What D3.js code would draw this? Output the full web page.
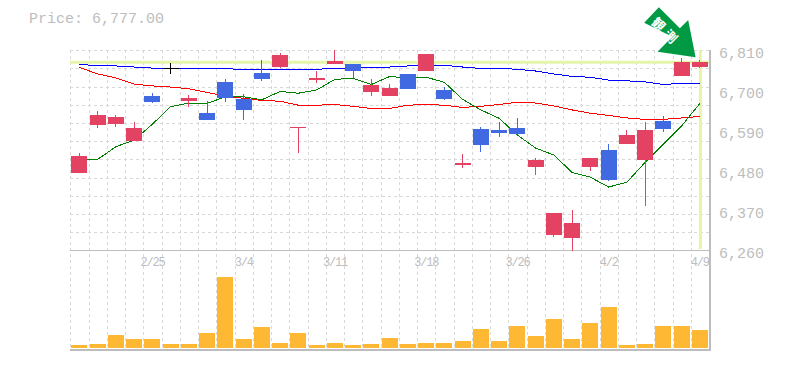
<!DOCTYPE html>
<html>
<head>
<meta charset="utf-8">
<script src="https://d3js.org/d3.v7.min.js"></script>
<style>
  body { margin: 0; background: #fff; }
  text { font-family: "Liberation Mono", monospace; fill: #bdbdbd; }
</style>
</head>
<body>
<div id="chart"></div>
<script>
var dates = ['2/19', '2/20', '2/21', '2/22', '2/25', '2/26', '2/27', '2/28', '3/1', '3/4', '3/5', '3/6', '3/7', '3/8', '3/11', '3/12', '3/13', '3/14', '3/15', '3/18', '3/19', '3/20', '3/22', '3/25', '3/26', '3/27', '3/28', '3/29', '4/1', '4/2', '4/3', '4/4', '4/5', '4/8', '4/9'];
var dateTicks = ['2/25', '3/4', '3/11', '3/18', '3/26', '4/2', '4/9'];
var priceTicks = [6260, 6370, 6480, 6590, 6700, 6810];
var gridTicks = d3.range(6260, 6811, 50);

var open = [6473, 6605, 6607, 6561, 6684, 6760, 6671, 6638, 6723, 6676, 6748, 6764, 6596, 6728, 6772, 6772, 6695, 6684, 6745, 6753, 6701, 6495, 6594, 6591, 6596, 6489, 6302, 6294, 6489, 6536, 6552, 6508, 6616, 6739, 6764];
var high = [6528, 6643, 6632, 6613, 6693, 6775, 6687, 6671, 6731, 6690, 6783, 6803, 6599, 6753, 6812, 6772, 6731, 6717, 6745, 6800, 6709, 6525, 6599, 6613, 6624, 6514, 6363, 6371, 6514, 6552, 6591, 6613, 6629, 6789, 6783];
var low = [6473, 6596, 6599, 6561, 6665, 6745, 6654, 6618, 6668, 6618, 6725, 6761, 6527, 6720, 6772, 6734, 6684, 6684, 6704, 6753, 6673, 6486, 6530, 6572, 6580, 6467, 6297, 6258, 6478, 6451, 6552, 6382, 6585, 6739, 6761];
var close = [6519, 6632, 6627, 6596, 6668, 6760, 6679, 6618, 6679, 6646, 6731, 6797, 6599, 6734, 6781, 6753, 6715, 6706, 6704, 6800, 6676, 6500, 6550, 6583, 6580, 6508, 6363, 6335, 6514, 6453, 6577, 6591, 6594, 6778, 6777];

var maShort = [6510, 6510, 6545, 6563, 6607, 6655, 6665, 6664, 6682, 6682, 6674, 6697, 6692, 6701, 6730, 6733, 6716, 6738, 6734, 6736, 6722, 6675, 6646, 6623, 6577, 6541, 6522, 6474, 6461, 6434, 6447, 6502, 6552, 6602, 6664];
var maMid = [6763, 6745, 6734, 6717, 6712, 6709, 6704, 6694, 6684, 6678, 6672, 6670, 6659, 6659, 6661, 6656, 6650, 6650, 6659, 6661, 6659, 6653, 6656, 6661, 6667, 6665, 6657, 6646, 6637, 6631, 6624, 6620, 6620, 6624, 6628];
var maLong = [6771, 6768, 6767, 6764, 6761, 6761, 6761, 6759, 6759, 6758, 6758, 6758, 6758, 6758, 6760, 6760, 6764, 6764, 6767, 6769, 6769, 6764, 6760, 6760, 6758, 6753, 6745, 6738, 6736, 6728, 6726, 6723, 6716, 6719, 6719];

var volume = [300, 400, 1300, 900, 900, 400, 400, 1500, 7100, 900, 2100, 500, 1500, 300, 500, 300, 400, 1000, 400, 500, 500, 700, 1900, 700, 2200, 1200, 2900, 900, 2500, 4100, 300, 400, 2200, 2200, 1800];

var lastPrice = 6777;

var UP = '#e34262', DOWN = '#4169e1', DOJI = '#000', GRID = '#d8d8d8', FRAME = '#bdbdbd', MARK = '#e4f5a9';

var svg = d3.select('#chart').append('svg')
  .attr('width', 785)
  .attr('height', 370)
  .style('display', 'block');

var x = d3.scaleBand().domain(dates).range([70.3, 709]).paddingInner(0.12).paddingOuter(0.06);
var y = d3.scaleLinear().domain([6260, 6810]).range([250.3, 50.3]);
var yVol = d3.scaleLinear().domain([0, 7100]).range([348, 277]);

var gap = x.step() * 0.12 / 2;
function cx(d) { return x(d) + x.bandwidth() / 2; }
function snap(v) { return Math.round(v) + 0.5; }

// grid
var grid = svg.append('g').attr('shape-rendering', 'crispEdges');
grid.selectAll('.v').data(dates).enter().append('line')
  .attr('class', 'v')
  .attr('x1', function (d) { return snap(x(d) - gap); })
  .attr('x2', function (d) { return snap(x(d) - gap); })
  .attr('y1', 50).attr('y2', 350)
  .attr('stroke', GRID).attr('stroke-dasharray', '3,3');

grid.selectAll('.h').data(gridTicks.filter(function (d) { return d != 6260; })).enter().append('line')
  .attr('class', 'h')
  .attr('x1', 70).attr('x2', 709)
  .attr('y1', function (d) { return snap(y(d)); })
  .attr('y2', function (d) { return snap(y(d)); })
  .attr('stroke', GRID).attr('stroke-dasharray', '3,3');

// last price marker
svg.append('line')
  .attr('x1', 70).attr('x2', 709)
  .attr('y1', y(lastPrice)).attr('y2', y(lastPrice))
  .attr('stroke', MARK).attr('stroke-width', 3);
svg.append('line')
  .attr('x1', cx('4/9') + 0.5).attr('x2', cx('4/9') + 0.5)
  .attr('y1', 50).attr('y2', 249)
  .attr('stroke', MARK).attr('stroke-width', 3);

// frame
var frame = svg.append('g').attr('stroke', FRAME).attr('shape-rendering', 'crispEdges');
frame.append('line').attr('x1', 70).attr('x2', 710).attr('y1', 250.5).attr('y2', 250.5);
frame.append('line').attr('x1', 70).attr('x2', 710).attr('y1', 350).attr('y2', 350).attr('stroke-width', 2);
frame.append('line').attr('x1', 710).attr('x2', 710).attr('y1', 50).attr('y2', 351).attr('stroke-width', 2);

// moving averages
function drawLine(values, color) {
  var line = d3.line()
    .x(function (d, i) { return cx(dates[i]); })
    .y(function (d) { return y(d); });
  svg.append('path')
    .attr('d', line(values))
    .attr('fill', 'none')
    .attr('stroke', color)
    .attr('shape-rendering', 'crispEdges');
}
drawLine(maLong, '#0000ff');
drawLine(maMid, '#ff0000');
drawLine(maShort, '#008000');

// candles
var candle = svg.append('g').attr('shape-rendering', 'crispEdges').selectAll('g')
  .data(dates).enter().append('g');

function candleColor(d, i) {
  if (close[i] == open[i]) return DOJI;
  return close[i] > open[i] ? UP : DOWN;
}

candle.append('line')
  .attr('x1', function (d) { return snap(cx(d) - 0.5); })
  .attr('x2', function (d) { return snap(cx(d) - 0.5); })
  .attr('y1', function (d, i) { return y(high[i]); })
  .attr('y2', function (d, i) { return y(low[i]); })
  .attr('stroke', candleColor);

candle.append('rect')
  .attr('x', function (d) { return Math.round(x(d)); })
  .attr('width', Math.round(x.bandwidth()))
  .attr('y', function (d, i) { return Math.round(y(Math.max(open[i], close[i]))); })
  .attr('height', function (d, i) {
    return Math.max(1, Math.round(Math.abs(y(open[i]) - y(close[i]))));
  })
  .attr('fill', candleColor);

// volume
svg.append('g').attr('shape-rendering', 'crispEdges').selectAll('rect')
  .data(dates).enter().append('rect')
  .attr('x', function (d) { return Math.round(x(d)); })
  .attr('width', Math.round(x.bandwidth()))
  .attr('y', function (d, i) { return yVol(volume[i]); })
  .attr('height', function (d, i) { return yVol(0) - yVol(volume[i]); })
  .attr('fill', '#ffb833');

// labels
svg.append('g').selectAll('text').data(priceTicks).enter().append('text')
  .attr('x', 719)
  .attr('y', function (d) { return y(d) + 8; })
  .attr('font-size', 15)
  .text(d3.format(','));

svg.append('g').selectAll('text').data(dateTicks).enter().append('text')
  .attr('x', function (d) { return cx(d); })
  .attr('y', 266)
  .attr('text-anchor', 'middle')
  .attr('font-size', 12)
  .attr('letter-spacing', -1.2)
  .text(function (d) { return d; });

svg.append('text')
  .attr('x', 29)
  .attr('y', 23)
  .attr('font-size', 15)
  .text('Price: ' + d3.format(',.2f')(lastPrice));

// arrow pointing at the last price
var arrow = svg.append('g')
  .attr('transform', 'translate(' + (cx('4/9') - 4.3) + ',' + (y(lastPrice) - 5) + ')');
arrow.append('path')
  .attr('d', 'M0,0 L-38,-5.6 L-23.4,-20.6 L-51.4,-34.6 L-36.7,-50 L-15.7,-29 L-7.4,-37.3 Z')
  .attr('fill', '#009944');
arrow.append('text')
  .attr('transform', 'translate(-33,-22) rotate(45)')
  .attr('text-anchor', 'middle')
  .attr('font-size', 13)
  .attr('letter-spacing', 4)
  .style('font-family', '"Noto Sans CJK JP"')
  .style('font-weight', 'bold')
  .style('fill', '#fff')
  .text('観測');
</script>
</body>
</html>
